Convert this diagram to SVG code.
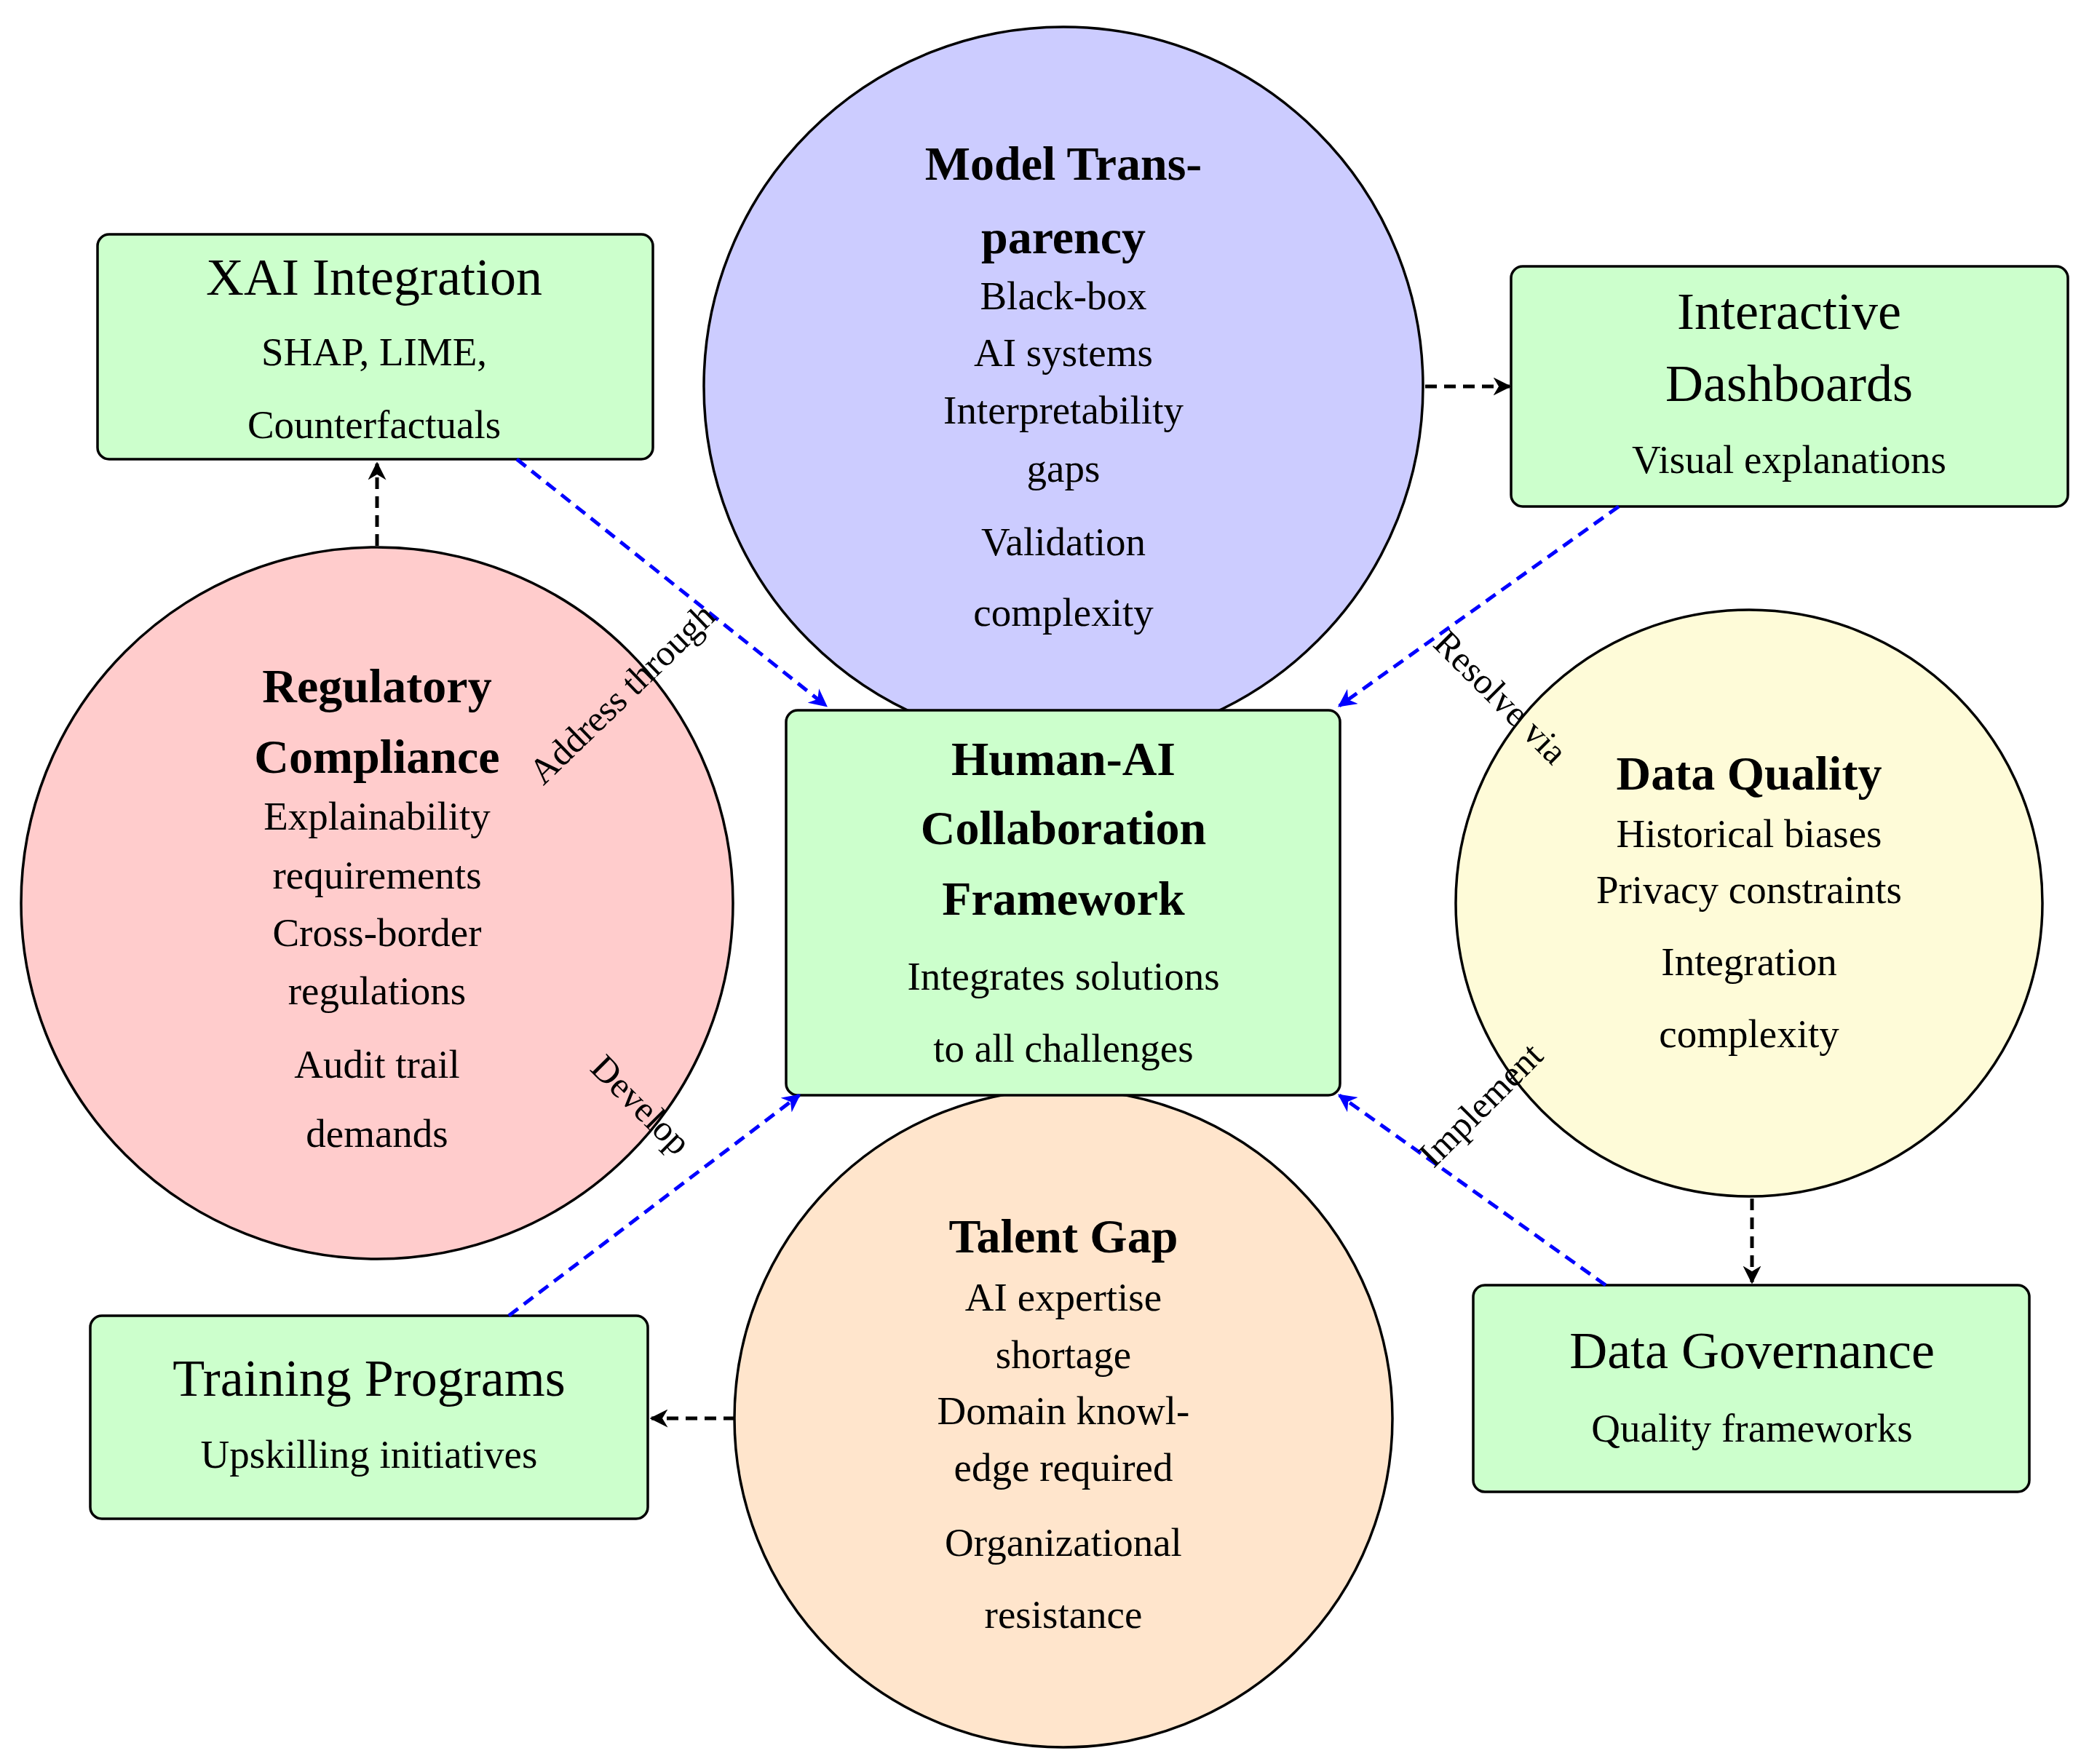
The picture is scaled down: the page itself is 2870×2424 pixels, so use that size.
<svg xmlns="http://www.w3.org/2000/svg" width="2870" height="2424" viewBox="0 0 2870 2424">
<defs>
<style>
text{font-family:"Liberation Serif","DejaVu Serif",serif;text-anchor:middle;fill:#000}
.b{font-size:55px}
.t{font-size:66px;font-weight:bold}
.h{font-size:72px}
.n{stroke:#000;stroke-width:3.5}
.k{stroke:#000;stroke-width:5;stroke-dasharray:16 10;fill:none}
.u{stroke:#0000ff;stroke-width:5;stroke-dasharray:16 10;fill:none}
.l{font-size:50px}
</style>
<marker id="ak" viewBox="0 0 10 10" refX="9" refY="5" markerWidth="5" markerHeight="5" orient="auto"><path d="M0,0L10,5L0,10L3,5z" fill="#000"/></marker>
<marker id="au" viewBox="0 0 10 10" refX="9" refY="5" markerWidth="5" markerHeight="5" orient="auto"><path d="M0,0L10,5L0,10L3,5z" fill="#0000ff"/></marker>
</defs>
<g id="model"><circle class="n" cx="1461" cy="531" r="494" fill="#ccccff"/>
<text class="t" x="1461" y="247">Model Trans-</text><text class="t" x="1461" y="348">parency</text>
<text class="b" x="1461" y="425">Black-box</text><text class="b" x="1461" y="503">AI systems</text><text class="b" x="1461" y="582">Interpretability</text><text class="b" x="1461" y="662">gaps</text><text class="b" x="1461" y="763">Validation</text><text class="b" x="1461" y="860">complexity</text></g>
<g id="regulatory"><circle class="n" cx="518" cy="1241" r="489" fill="#ffcccc"/>
<text class="t" x="518" y="965">Regulatory</text><text class="t" x="518" y="1062">Compliance</text>
<text class="b" x="518" y="1140">Explainability</text><text class="b" x="518" y="1221">requirements</text><text class="b" x="518" y="1300">Cross-border</text><text class="b" x="518" y="1380">regulations</text><text class="b" x="518" y="1481">Audit trail</text><text class="b" x="518" y="1576">demands</text></g>
<g id="dataquality"><circle class="n" cx="2403" cy="1241" r="403" fill="#fefbd8"/>
<text class="t" x="2403" y="1085">Data Quality</text>
<text class="b" x="2403" y="1164">Historical biases</text><text class="b" x="2403" y="1241">Privacy constraints</text><text class="b" x="2403" y="1340">Integration</text><text class="b" x="2403" y="1439">complexity</text></g>
<g id="talent"><circle class="n" cx="1461" cy="1949" r="452" fill="#ffe5cc"/>
<text class="t" x="1461" y="1721">Talent Gap</text>
<text class="b" x="1461" y="1801">AI expertise</text><text class="b" x="1461" y="1880">shortage</text><text class="b" x="1461" y="1957">Domain knowl-</text><text class="b" x="1461" y="2035">edge required</text><text class="b" x="1461" y="2138">Organizational</text><text class="b" x="1461" y="2237">resistance</text></g>
<g id="center"><rect class="n" x="1080" y="976" width="761" height="529" rx="16" fill="#ccffcc"/>
<text class="t" x="1461" y="1065">Human-AI</text><text class="t" x="1461" y="1160">Collaboration</text><text class="t" x="1461" y="1257">Framework</text>
<text class="b" x="1461" y="1360">Integrates solutions</text><text class="b" x="1461" y="1459">to all challenges</text></g>
<g id="xai"><rect class="n" x="134" y="322" width="763" height="309" rx="16" fill="#ccffcc"/>
<text class="h" x="514" y="405">XAI Integration</text><text class="b" x="514" y="502">SHAP, LIME,</text><text class="b" x="514" y="602">Counterfactuals</text></g>
<g id="dashboards"><rect class="n" x="2076" y="366" width="765" height="330" rx="16" fill="#ccffcc"/>
<text class="h" x="2458" y="452">Interactive</text><text class="h" x="2458" y="551">Dashboards</text><text class="b" x="2458" y="650">Visual explanations</text></g>
<g id="governance"><rect class="n" x="2024" y="1766" width="764" height="284" rx="16" fill="#ccffcc"/>
<text class="h" x="2407" y="1880">Data Governance</text><text class="b" x="2407" y="1981">Quality frameworks</text></g>
<g id="training"><rect class="n" x="124" y="1808" width="766" height="279" rx="16" fill="#ccffcc"/>
<text class="h" x="507" y="1918">Training Programs</text><text class="b" x="507" y="2017">Upskilling initiatives</text></g>
<g id="connectors">
<path class="k" d="M518,750L518,637" marker-end="url(#ak)"/>
<path class="k" d="M1958,531L2074,531" marker-end="url(#ak)"/>
<path class="k" d="M2407,1647L2407,1762" marker-end="url(#ak)"/>
<path class="k" d="M1010,1949L895,1949" marker-end="url(#ak)"/>
<path class="u" d="M710,631L1135,970" marker-end="url(#au)"/>
<path class="u" d="M2224,696L1840,970" marker-end="url(#au)"/>
<path class="u" d="M2206,1766L1840,1505" marker-end="url(#au)"/>
<path class="u" d="M699,1808L1098,1505" marker-end="url(#au)"/>
<text class="l" transform="translate(866,965) rotate(-44)">Address through</text>
<text class="l" transform="translate(2050,970) rotate(45)">Resolve via</text>
<text class="l" transform="translate(2046,1530) rotate(-45)">Implement</text>
<text class="l" transform="translate(869,1530) rotate(45)">Develop</text>
</g>
</svg>
